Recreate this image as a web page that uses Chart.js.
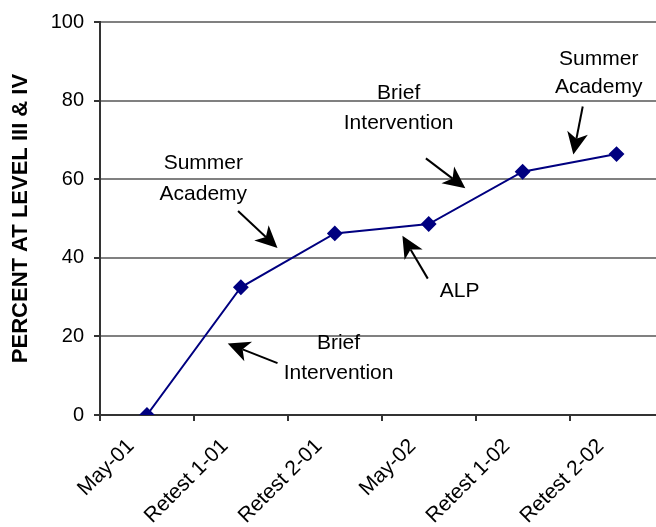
<!DOCTYPE html>
<html>
<head>
<meta charset="utf-8">
<script src="https://cdn.jsdelivr.net/npm/chart.js@4/dist/chart.umd.min.js"></script>
<style>
html,body{margin:0;padding:0;background:#fff;overflow:hidden;}
#wrap{width:672px;height:527px;}
</style>
</head>
<body>
<div id="wrap"><canvas id="c" width="672" height="527"></canvas></div>
<script>
const categories = ["May-01", "Retest 1-01", "Retest 2-01", "May-02", "Retest 1-02", "Retest 2-02"];
const percentValues = [0, 32.5, 46.2, 48.6, 61.9, 66.4];
const yTicks = [0, 20, 40, 60, 80, 100];
const yTitle = "PERCENT AT LEVEL III & IV";

// annotations in data space: x = category index (fractional), y = percent
const annotationLines = [
  { lines: ["Summer", "Academy"], x: 0.60, ys: [64.0, 56.3] },
  { lines: ["Brief", "Intervention"], x: 2.68, ys: [81.8, 74.2] },
  { lines: ["Summer", "Academy"], x: 4.81, ys: [90.6, 83.5] },
  { lines: ["ALP"], x: 3.33, ys: [31.6] },
  { lines: ["Brief", "Intervention"], x: 2.04, ys: [18.2, 10.6] }
];
const arrowFrom = [[0.97, 51.9], [2.97, 65.3], [4.64, 78.5], [2.99, 34.7], [1.39, 13.2]];
const arrowTo   = [[1.39, 42.5], [3.39, 57.7], [4.54, 66.3], [2.72, 45.6], [0.86, 18.2]];

const FONT = "'Liberation Sans', Arial, sans-serif";

const annotPlugin = {
  id: 'annot',
  afterDatasetsDraw(chart) {
    const ctx = chart.ctx, xs = chart.scales.x, ys = chart.scales.y;
    const px = i => xs.getPixelForValue(0) + i * (xs.getPixelForValue(1) - xs.getPixelForValue(0));
    ctx.save();
    ctx.fillStyle = '#000';
    ctx.font = "21px " + FONT;
    ctx.textAlign = 'center';
    ctx.textBaseline = 'middle';
    annotationLines.forEach(a => {
      a.lines.forEach((t, k) => ctx.fillText(t, px(a.x), ys.getPixelForValue(a.ys[k])));
    });
    ctx.strokeStyle = '#000';
    ctx.lineWidth = 2;
    arrowFrom.forEach((f, k) => {
      const x1 = px(f[0]), y1 = ys.getPixelForValue(f[1]);
      const x2 = px(arrowTo[k][0]), y2 = ys.getPixelForValue(arrowTo[k][1]);
      const ang = Math.atan2(y2 - y1, x2 - x1);
      const L = 22, W = 10.5;
      const bx = x2 - L * Math.cos(ang), by = y2 - L * Math.sin(ang);
      ctx.beginPath();
      ctx.moveTo(x1, y1);
      ctx.lineTo(x2 - (L - 6) * Math.cos(ang), y2 - (L - 6) * Math.sin(ang));
      ctx.stroke();
      ctx.beginPath();
      ctx.moveTo(x2, y2);
      ctx.lineTo(bx + W * Math.sin(ang), by - W * Math.cos(ang));
      ctx.lineTo(x2 - (L - 6) * Math.cos(ang), y2 - (L - 6) * Math.sin(ang));
      ctx.lineTo(bx - W * Math.sin(ang), by + W * Math.cos(ang));
      ctx.closePath();
      ctx.fill();
    });
    ctx.restore();
  }
};

new Chart(document.getElementById('c'), {
  type: 'line',
  data: {
    labels: categories,
    datasets: [{
      data: percentValues,
      borderColor: '#000080',
      backgroundColor: '#000080',
      borderWidth: 2,
      pointStyle: 'rectRot',
      pointRadius: 6.5,
      pointHoverRadius: 6.5,
      tension: 0,
      fill: false
    }]
  },
  options: {
    responsive: false,
    animation: false,
    events: [],
    layout: { padding: { top: 20, right: 0, left: 0, bottom: 0 } },
    plugins: { legend: { display: false }, tooltip: { enabled: false } },
    scales: {
      x: {
        offset: true,
        grid: { offset: true, drawOnChartArea: false, drawTicks: true, tickLength: 6, tickColor: '#333', lineWidth: 2 },
        border: { color: '#333', width: 2 },
        ticks: { color: '#000', font: { family: FONT, size: 21 }, maxRotation: 45, minRotation: 45, padding: 13, labelOffset: -16, autoSkip: false },
        afterFit(s) { s.height = 112; }
      },
      y: {
        min: 0, max: 100,
        afterBuildTicks(s) { s.ticks = yTicks.map(v => ({ value: v })); },
        grid: { color: '#808080', lineWidth: 2, drawTicks: true, tickLength: 6, tickColor: '#333' },
        border: { color: '#333', width: 2 },
        ticks: { color: '#000', font: { family: FONT, size: 20 }, padding: 10 },
        title: { display: true, text: yTitle, color: '#000', font: { family: FONT, size: 22, weight: 'bold' }, padding: { top: 8, bottom: 0 } },
        afterFit(s) { s.width = 100; }
      }
    }
  },
  plugins: [annotPlugin]
});
</script>
</body>
</html>
